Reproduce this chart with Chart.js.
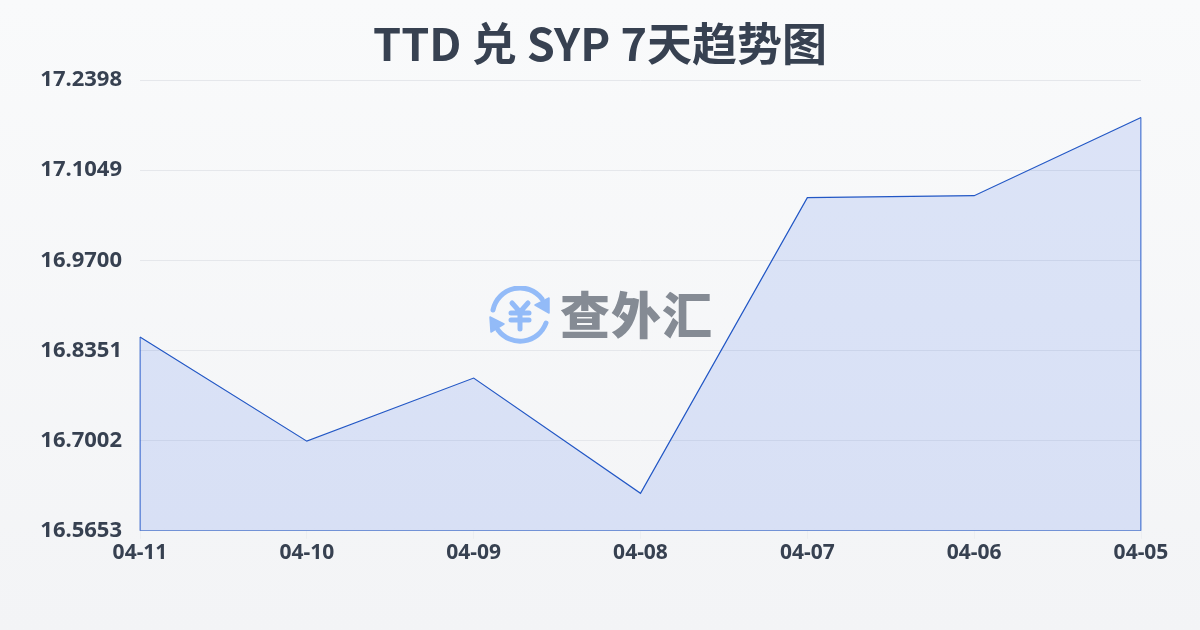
<!DOCTYPE html>
<html>
<head>
<meta charset="utf-8">
<script src="https://cdn.jsdelivr.net/npm/chart.js@4"></script>
<style>
  html, body { margin: 0; padding: 0; }
  body { width: 1200px; height: 630px; overflow: hidden; position: relative;
    background: linear-gradient(180deg, #f9fafb 0%, #f3f4f6 100%); }
  #box { position: absolute; left: 0; top: 0; width: 1200px; height: 630px; }
  #mark { position: absolute; left: 489px; top: 285px; height: 60px; display: flex; align-items: center; }
  #mark svg { position: relative; top: 1px; }
  #mark span { font: 900 50px "Noto Sans CJK SC"; color: #858b94; margin-left: 10px; letter-spacing: 1px; line-height: 60px; position: relative; top: -3px; }
</style>
</head>
<body>
<div id="box"><canvas id="dia" width="1200" height="630"></canvas></div>
<div id="mark">
  <svg width="61" height="60" viewBox="0 0 61 60" fill="none" stroke="#93bbf8" stroke-width="5" stroke-linecap="round">
    <path d="M4 24 A27.5 27.5 0 0 1 53 13"/>
    <path d="M57 37 A27.5 27.5 0 0 1 9 44"/>
    <path d="M60 12 L60 27 L46 19 Z" fill="#93bbf8" stroke="#93bbf8" stroke-width="1.5" stroke-linejoin="round"/>
    <path d="M1 31 L2 46 L15 38 Z" fill="#93bbf8" stroke="#93bbf8" stroke-width="1.5" stroke-linejoin="round"/>
    <path d="M23 17 L31 26 L39 17 M22 27 H40 M22 34 H40 M31 26 V43" stroke-width="5"/>
  </svg>
  <span>查外汇</span>
</div>
<script>
//--------------- data ---------------//
const dates = ['04-11', '04-10', '04-09', '04-08', '04-07', '04-06', '04-05'];
const rates = [16.8553, 16.6995, 16.7939, 16.6215, 17.0637, 17.0667, 17.1836];
const yTicks = [16.5653, 16.7002, 16.8351, 16.9700, 17.1049, 17.2398];

const yMin = yTicks[0];
const yMax = yTicks[yTicks.length - 1];
const lineColor = '#2257c5';
const textColor = '#374151';

//--------------- chart ---------------//
const dia = new Chart(document.getElementById('dia'), {
  type: 'line',
  data: {
    labels: dates,
    datasets: [
      {
        data: rates,
        borderColor: lineColor,
        borderWidth: 1.2,
        backgroundColor: 'rgba(38, 92, 230, 0.135)',
        fill: 'start',
        tension: 0,
        pointRadius: 0
      },
      {
        // left, bottom and right edge of the filled area
        data: [
          {x: dates[0], y: rates[0]},
          {x: dates[0], y: yMin},
          {x: dates[dates.length - 1], y: yMin},
          {x: dates[dates.length - 1], y: rates[rates.length - 1]}
        ],
        borderColor: lineColor,
        borderWidth: 1.2,
        fill: false,
        tension: 0,
        pointRadius: 0
      }
    ]
  },
  options: {
    responsive: false,
    animation: false,
    layout: {padding: {top: 0, right: 0, bottom: 63, left: 0}},
    plugins: {
      legend: {display: false},
      tooltip: {enabled: false},
      title: {
        display: true,
        text: 'TTD 兑 SYP 7天趋势图',
        color: textColor,
        font: {family: '"Noto Sans CJK SC"', size: 45, weight: '700', lineHeight: 1.2},
        padding: {top: 17, bottom: 9}
      }
    },
    scales: {
      x: {
        type: 'category',
        offset: false,
        border: {display: false},
        grid: {drawOnChartArea: false, drawTicks: true, tickLength: 8, color: '#eceef1'},
        ticks: {color: textColor, font: {family: '"Noto Sans"', size: 21, weight: '700', lineHeight: 1.15},
          padding: 2, maxRotation: 0, autoSkip: false, align: 'center'}
      },
      y: {
        min: yMin,
        max: yMax,
        border: {display: false},
        grid: {color: '#e5e7eb', lineWidth: 1, drawTicks: false},
        afterFit: function(scale) { scale.width = 140; },
        afterBuildTicks: function(scale) {
          scale.ticks = yTicks.map(v => ({value: v}));
        },
        ticks: {color: textColor, font: {family: '"Noto Sans"', size: 22, weight: '700'},
          padding: 18, callback: v => v.toFixed(4)}
      },
      // empty right axis, only keeps the title centred on the page
      yr: {
        position: 'right',
        border: {display: false},
        grid: {display: false},
        ticks: {display: false},
        afterFit: function(scale) { scale.width = 59; }
      }
    }
  }
});
window.dia = dia;
</script>
</body>
</html>
